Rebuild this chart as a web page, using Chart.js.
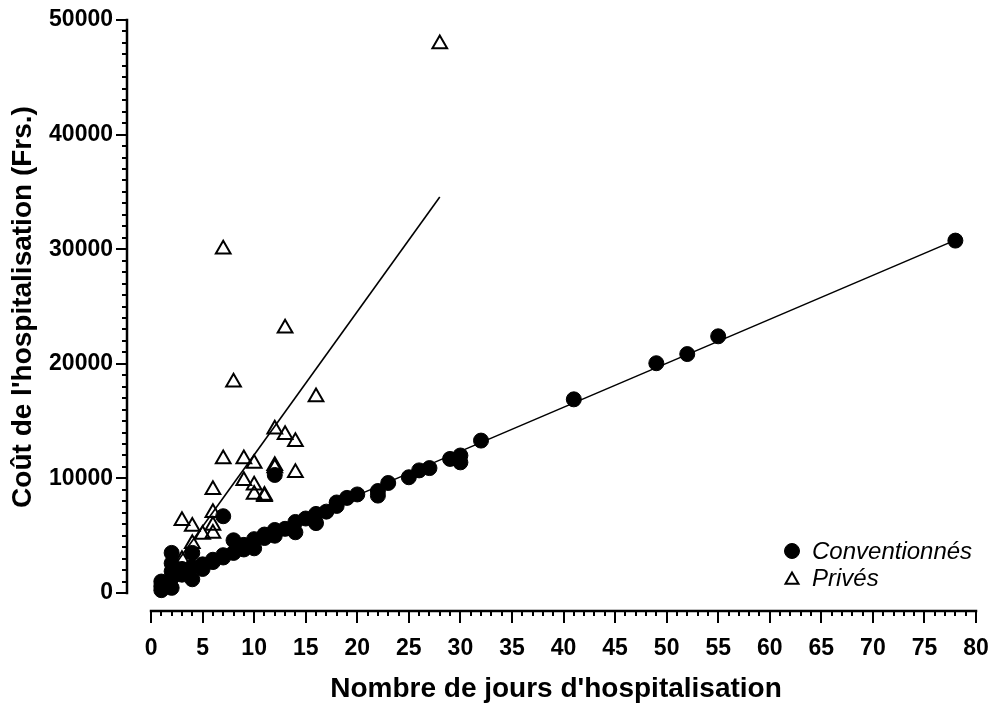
<!DOCTYPE html>
<html>
<head>
<meta charset="utf-8">
<script src="https://cdn.jsdelivr.net/npm/chart.js@4.4.1/dist/chart.umd.min.js"></script>
<style>
  html, body { margin: 0; padding: 0; background: #ffffff; }
  canvas { display: block; }
</style>
</head>
<body>
<canvas id="chart" width="993" height="704"></canvas>
<script>
// Length of stay (days) and hospitalisation cost (Frs.) per patient
const convDays = [1, 1, 1, 2, 2, 2, 2, 2, 3, 3, 4, 4, 4, 5, 5, 6, 6, 7, 7, 7, 8, 8, 9, 9, 10, 10,
                  11, 11, 12, 12, 12, 13, 14, 14, 15, 16, 16, 17, 18, 18, 19, 20, 22, 22, 23, 25,
                  26, 27, 29, 30, 30, 32, 41, 49, 52, 55, 78];
const convCost = [250, 600, 1000, 450, 1300, 1900, 2600, 3500, 1600, 2100, 1200, 2300, 3500, 2100, 2500,
                  2700, 2900, 3100, 3300, 6700, 3500, 4600, 3800, 4200, 3900, 4700,
                  4800, 5100, 5000, 5500, 10300, 5600, 5300, 6200, 6500, 6100, 6900, 7100, 7600, 7900,
                  8300, 8600, 8500, 8900, 9600, 10100, 10700, 10900, 11700, 11400, 12000, 13300,
                  16900, 20050, 20850, 22400, 30750];

const privDays = [3, 3, 4, 4, 5, 6, 6, 6, 6, 7, 7, 8, 9, 9, 10, 10, 10, 11, 11, 12, 12, 12,
                  13, 13, 14, 14, 16, 28];
const privCost = [2900, 6300, 4300, 5800, 5100, 5200, 5900, 7000, 9000, 11700, 30000, 18400, 9800, 11700,
                  8600, 9400, 11300, 8400, 8500, 10900, 11100, 14300, 13800, 23100, 10500, 13200,
                  17100, 47900];

// Fitted regression lines (end points)
const convFitDays = [1, 78];
const convFitCost = [1233, 30793];
const privFitDays = [2, 28];
const privFitCost = [2050, 34550];

const xTicks = [0, 5, 10, 15, 20, 25, 30, 35, 40, 45, 50, 55, 60, 65, 70, 75, 80];
const yTicks = [0, 10000, 20000, 30000, 40000, 50000];
const xMinorStep = 1;
const yMinorStep = 1000;

const seriesNames = ['Conventionnés', 'Privés'];
const xTitle = "Nombre de jours d'hospitalisation";
const yTitle = "Coût de l'hospitalisation (Frs.)";

const FONT = "'Liberation Sans', Arial, Helvetica, sans-serif";

const toPoints = (xs, ys) => xs.map((x, i) => ({ x: x, y: ys[i] }));

// keep the plot area where the layout padding puts it
const noOverflowPadding = (s) => {
  s.paddingLeft = 0; s.paddingRight = 0; s.paddingTop = 0; s.paddingBottom = 0;
};

// Detached axes with major/minor tick marks, titles and legend
const decorPlugin = {
  id: 'decor',
  afterDraw(chart) {
    const ctx = chart.ctx;
    const xs = chart.scales.x;
    const ys = chart.scales.y;
    const area = chart.chartArea;
    ctx.save();
    ctx.strokeStyle = '#000';
    ctx.fillStyle = '#000';
    ctx.lineCap = 'butt';

    // y axis
    const yAxisX = area.left;
    const y0 = ys.getPixelForValue(yTicks[0]);
    const y1 = ys.getPixelForValue(yTicks[yTicks.length - 1]);
    ctx.lineWidth = 2.5;
    ctx.beginPath();
    ctx.moveTo(yAxisX, y0 + 1.25);
    ctx.lineTo(yAxisX, y1 - 1.25);
    ctx.stroke();
    ctx.lineWidth = 2;
    for (let v = yTicks[0]; v <= yTicks[yTicks.length - 1]; v += yMinorStep) {
      const py = Math.round(ys.getPixelForValue(v));
      const major = yTicks.includes(v);
      ctx.beginPath();
      ctx.moveTo(yAxisX, py);
      ctx.lineTo(yAxisX - (major ? 11 : 5), py);
      ctx.stroke();
    }

    // x axis
    const xAxisY = area.bottom;
    const x0 = xs.getPixelForValue(xTicks[0]);
    const x1 = xs.getPixelForValue(xTicks[xTicks.length - 1]);
    ctx.lineWidth = 2.5;
    ctx.beginPath();
    ctx.moveTo(x0 - 1.25, xAxisY);
    ctx.lineTo(x1 + 1.25, xAxisY);
    ctx.stroke();
    ctx.lineWidth = 2;
    for (let v = xTicks[0]; v <= xTicks[xTicks.length - 1]; v += xMinorStep) {
      const px = Math.round(xs.getPixelForValue(v));
      const major = xTicks.includes(v);
      ctx.beginPath();
      ctx.moveTo(px, xAxisY);
      ctx.lineTo(px, xAxisY + (major ? 12 : 5));
      ctx.stroke();
    }

    // axis titles
    ctx.font = 'bold 28px ' + FONT;
    ctx.textAlign = 'center';
    ctx.textBaseline = 'middle';
    ctx.fillText(xTitle, 556, 689);
    ctx.save();
    ctx.translate(23, 307);
    ctx.rotate(-Math.PI / 2);
    ctx.fillText(yTitle, 0, 0);
    ctx.restore();

    // legend
    ctx.font = 'italic 24px ' + FONT;
    ctx.textAlign = 'left';
    const legendRows = [551, 578];
    chart.data.datasets.slice(0, 2).forEach((ds, i) => {
      const ly = legendRows[i];
      ctx.save();
      ctx.fillStyle = ds.backgroundColor;
      ctx.strokeStyle = ds.borderColor;
      ctx.lineWidth = ds.borderWidth;
      Chart.helpers.drawPoint(ctx, {
        pointStyle: ds.pointStyle,
        radius: 7.5,
        borderWidth: ds.borderWidth,
        rotation: 0
      }, 792, ly + (ds.pointStyle === 'triangle' ? 2 : 0));
      ctx.restore();
      ctx.fillStyle = '#000';
      ctx.fillText(ds.label, 812, ly + 1);
    });
    ctx.restore();
  }
};

new Chart(document.getElementById('chart'), {
  type: 'scatter',
  data: {
    datasets: [
      {
        label: seriesNames[0],
        data: toPoints(convDays, convCost),
        pointStyle: 'circle',
        pointRadius: 7.5,
        backgroundColor: '#000000',
        borderColor: '#000000',
        borderWidth: 1,
        clip: false,
        order: 2
      },
      {
        label: seriesNames[1],
        data: toPoints(privDays, privCost),
        pointStyle: 'triangle',
        pointRadius: 8.5,
        backgroundColor: 'rgba(255,255,255,0)',
        borderColor: '#000000',
        borderWidth: 2,
        clip: false,
        order: 1
      },
      {
        label: 'fit-conv',
        type: 'line',
        data: toPoints(convFitDays, convFitCost),
        showLine: true,
        pointRadius: 0,
        borderColor: '#000000',
        borderWidth: 1.6,
        fill: false,
        clip: false,
        order: 3
      },
      {
        label: 'fit-priv',
        type: 'line',
        data: toPoints(privFitDays, privFitCost),
        showLine: true,
        pointRadius: 0,
        borderColor: '#000000',
        borderWidth: 1.6,
        fill: false,
        clip: false,
        order: 3
      }
    ]
  },
  options: {
    responsive: false,
    devicePixelRatio: 1,
    animation: false,
    events: [],
    layout: { padding: { top: 20, right: 17, bottom: 0, left: 0 } },
    plugins: {
      legend: { display: false },
      tooltip: { enabled: false },
      title: { display: false }
    },
    scales: {
      x: {
        type: 'linear',
        min: -2.33,
        max: 80,
        grid: { display: false, drawTicks: false },
        border: { display: false },
        afterBuildTicks: (s) => { s.ticks = xTicks.map(v => ({ value: v })); },
        afterFit: (s) => { s.height = 93; noOverflowPadding(s); },
        ticks: {
          autoSkip: false,
          maxRotation: 0,
          padding: 24,
          color: '#000',
          callback: (v) => String(v),
          font: { family: FONT, size: 23, weight: 'bold' }
        }
      },
      y: {
        type: 'linear',
        min: -1570,
        max: 50000,
        grid: { display: false, drawTicks: false },
        border: { display: false },
        afterBuildTicks: (s) => { s.ticks = yTicks.map(v => ({ value: v })); },
        afterFit: (s) => { s.width = 127; noOverflowPadding(s); },
        ticks: {
          autoSkip: false,
          padding: 14,
          color: '#000',
          callback: (v) => String(v),
          font: { family: FONT, size: 23, weight: 'bold' }
        }
      }
    }
  },
  plugins: [decorPlugin]
});
</script>
</body>
</html>
